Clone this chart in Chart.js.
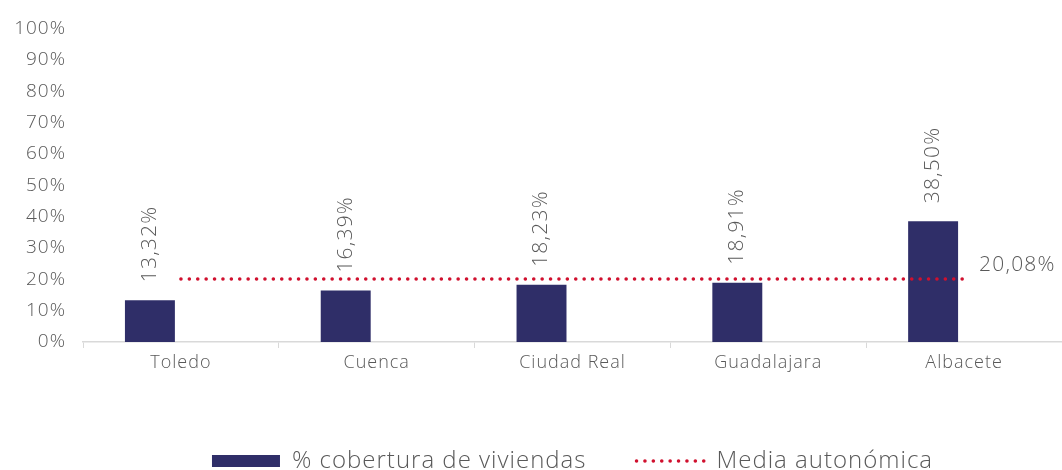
<!DOCTYPE html>
<html>
<head>
<meta charset="utf-8">
<script src="https://cdn.jsdelivr.net/npm/chart.js@4"></script>
<style>
  html, body { margin: 0; padding: 0; background: #fff; }
  #wrap { width: 1062px; height: 470px; }
</style>
</head>
<body>
<div id="wrap"><canvas id="myChart"></canvas></div>
<script>
const categories = ['Toledo', 'Cuenca', 'Ciudad Real', 'Guadalajara', 'Albacete'];
const coverage = [13.32, 16.39, 18.23, 18.91, 38.50];
const regionalMean = [20.08, 20.08, 20.08, 20.08, 20.08];
const spacer = [null, null, null, null, null];

const FONT = "'Open Sans', 'DejaVu Sans', sans-serif";
const GREY = '#595959';
const NAVY = '#2f2e68';
const RED = '#d0102e';

const fmt = v => v.toFixed(2).replace('.', ',') + '%';

// wider letters, closer to the original typeface
const spacing = {
  id: 'spacing',
  beforeUpdate(chart) { chart.ctx.letterSpacing = '1px'; },
  beforeDraw(chart) { chart.ctx.letterSpacing = '1px'; }
};

// rotated value labels on the bars + the label of the mean line
const valueLabels = {
  id: 'valueLabels',
  afterDatasetsDraw(chart) {
    const ctx = chart.ctx;
    ctx.save();
    ctx.letterSpacing = '1.2px';
    ctx.fillStyle = GREY;
    ctx.font = '300 21px ' + FONT;
    const bars = chart.getDatasetMeta(0).data;
    bars.forEach((bar, i) => {
      ctx.save();
      ctx.translate(bar.x, bar.y - 18);
      ctx.rotate(-Math.PI / 2);
      ctx.textAlign = 'left';
      ctx.textBaseline = 'middle';
      ctx.fillText(fmt(coverage[i]), 0, 0);
      ctx.restore();
    });
    const pts = chart.getDatasetMeta(2).data;
    const last = pts[pts.length - 1];
    ctx.textAlign = 'left';
    ctx.textBaseline = 'alphabetic';
    ctx.fillText(fmt(regionalMean[regionalMean.length - 1]), last.x + 15, last.y - 8);
    ctx.restore();
  }
};

new Chart(document.getElementById('myChart'), {
  type: 'bar',
  data: {
    labels: categories,
    datasets: [
      {
        label: '% cobertura de viviendas',
        data: coverage,
        backgroundColor: NAVY,
        borderWidth: 0,
        pointStyle: 'rect',
        categoryPercentage: 0.633,
        barPercentage: 0.806,
        order: 1
      },
      {
        label: '',
        data: spacer,
        backgroundColor: 'rgba(0,0,0,0)',
        categoryPercentage: 0.633,
        barPercentage: 0.806,
        order: 1
      },
      {
        type: 'line',
        label: 'Media autonómica',
        data: regionalMean,
        borderColor: RED,
        backgroundColor: RED,
        borderWidth: 3.5,
        borderDash: [0.1, 8.3],
        borderCapStyle: 'round',
        pointRadius: 0,
        pointHoverRadius: 0,
        pointStyle: 'line',
        fill: false,
        order: 0
      }
    ]
  },
  options: {
    responsive: true,
    maintainAspectRatio: false,
    animation: false,
    layout: { padding: { top: 12, left: 4, right: 0, bottom: -13 } },
    plugins: {
      legend: {
        position: 'bottom',
        fullSize: false,
        labels: {
          usePointStyle: true,
          pointStyleWidth: 68,
          boxHeight: 12,
          padding: 50,
          color: GREY,
          font: { family: FONT, size: 24, weight: '300' },
          generateLabels(chart) {
            const items = Chart.defaults.plugins.legend.labels.generateLabels(chart);
            return items
              .filter(it => it.text !== '')
              .sort((a, b) => a.datasetIndex - b.datasetIndex)
              .map(it => {
                if (it.datasetIndex === 2) {
                  it.lineDash = [0.1, 8.3];
                  it.lineCap = 'round';
                  it.lineWidth = 3.5;
                  it.strokeStyle = RED;
                }
                return it;
              });
          }
        }
      },
      tooltip: { enabled: false }
    },
    scales: {
      x: {
        grid: {
          display: true,
          drawOnChartArea: false,
          drawTicks: true,
          tickLength: 6,
          color: '#d9d9d9'
        },
        border: { color: '#d9d9d9', width: 1.5 },
        ticks: {
          color: GREY,
          padding: 4,
          font: { family: FONT, size: 18, weight: '300' }
        },
        afterFit: scale => { scale.height = 57; }
      },
      y: {
        min: 0,
        max: 100,
        grid: { display: false, drawTicks: false },
        border: { display: false },
        ticks: {
          stepSize: 10,
          padding: 17,
          color: GREY,
          font: { family: FONT, size: 19, weight: '300' },
          callback: v => v + '%'
        },
        afterFit: scale => { scale.width = 79; }
      }
    }
  },
  plugins: [spacing, valueLabels]
});
</script>
</body>
</html>
